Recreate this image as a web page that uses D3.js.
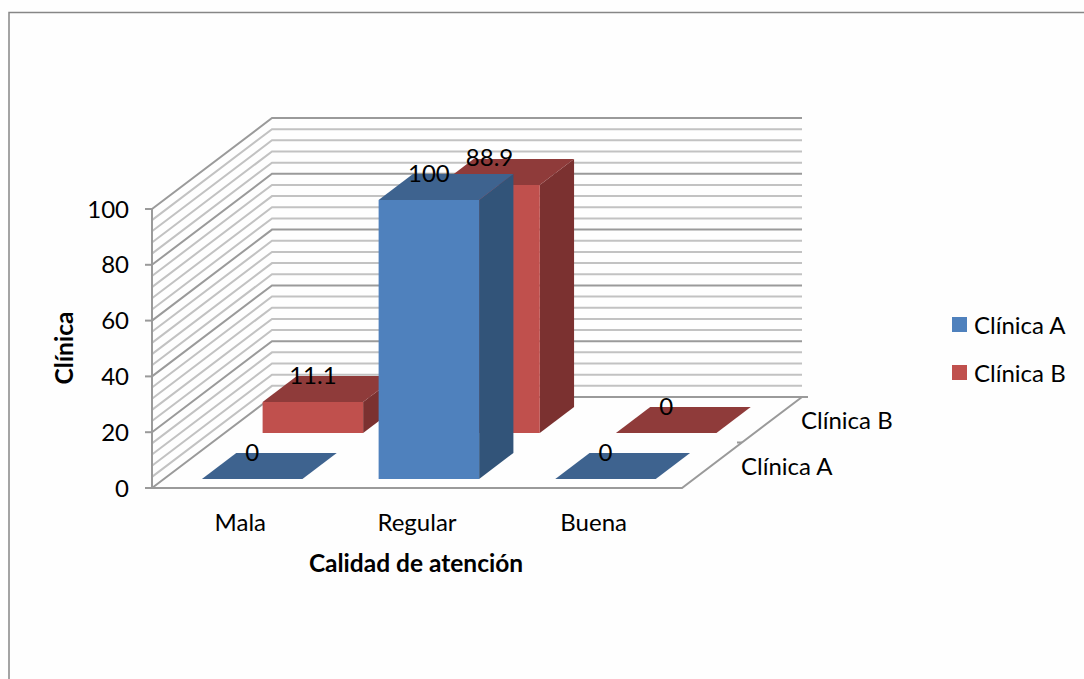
<!DOCTYPE html>
<html>
<head>
<meta charset="utf-8">
<script src="https://cdnjs.cloudflare.com/ajax/libs/d3/7.8.5/d3.min.js"></script>
<style>
  html, body { margin: 0; padding: 0; background: #fefefe; }
  svg { display: block; }
  text { font-family: Lato, "Open Sans", sans-serif; fill: #000; }
</style>
</head>
<body>
<svg id="chart" width="1084" height="679"></svg>
<script>
// Chart content
const categories = ["Mala", "Regular", "Buena"];
const seriesNames = ["Clínica A", "Clínica B"];
const clinicaA = [0, 100, 0];
const clinicaB = [11.1, 88.9, 0];
const valueTicks = [0, 20, 40, 60, 80, 100];
const minorTicks = d3.range(0, 101, 4);
const xTitle = "Calidad de atención";
const yTitle = "Clínica";

// Colours for the three visible faces of each column
const faces = [
  { front: "#4f81bd", top: "#3e638f", side: "#325479" },
  { front: "#c0504d", top: "#8f3b3a", side: "#7b3130" }
];

const svg = d3.select("#chart");

// Oblique projection: category and value span the front plane, depth shears up and right
const xScale = d3.scaleBand().domain(categories).range([152, 682]).paddingInner(0).paddingOuter(0);
const yScale = d3.scaleLinear().domain([0, 100]).range([488, 209]);
const depthX = d3.scaleLinear().domain([0, 1]).range([0, 120]);
const depthY = d3.scaleLinear().domain([0, 1]).range([0, -91]);
const project = (x, value, depth) => [x + depthX(depth), yScale(value) + depthY(depth)];

const polyline = pts => d3.line()(pts);

// Walls: horizontal lines on the back plane and diagonals on the left plane
const grid = svg.append("g").attr("fill", "none");
minorTicks.forEach(v => {
  const major = v % 20 === 0;
  const pts = [project(152, v, 0), project(152, v, 1), project(802, v, 1)];
  pts[2][0] = 802;
  grid.append("path")
    .attr("d", polyline(pts))
    .attr("stroke", major ? "#9a9a9a" : "#c2c2c2")
    .attr("stroke-width", 2);
});

// Axis lines and tick marks
const axis = svg.append("g").attr("fill", "none").attr("stroke", "#9a9a9a").attr("stroke-width", 2);
axis.append("path").attr("d", polyline([[152, yScale(100)], [152, yScale(0)]]));
valueTicks.forEach(v => axis.append("path").attr("d", polyline([[145, yScale(v)], [152, yScale(v)]])));
axis.append("path").attr("d", polyline([[145, 488], [682, 488], project(682, 0, 1)]));
axis.append("path").attr("d", polyline([project(682, 0, 1), [808, 397]]));
axis.append("path").attr("d", polyline([project(682, 0, 0.5), [project(682, 0, 0.5)[0] - 5, project(682, 0, 0.5)[1]]]));

// Columns: rear series first so the front series overlaps it
const barWidth = 100.5;
const barInset = (xScale.bandwidth() - barWidth) / 2;
const rows = [
  { values: clinicaB, near: 55 / 91, far: 81 / 91, colors: faces[1] },
  { values: clinicaA, near: 9 / 91, far: 35 / 91, colors: faces[0] }
];
const bars = svg.append("g");
rows.forEach(row => {
  row.values.forEach((value, i) => {
    const x0 = xScale(categories[i]) + barInset;
    const x1 = x0 + barWidth;
    const g = bars.append("g");
    if (value > 0) {
      g.append("path").attr("fill", row.colors.side).attr("d", polyline([
        project(x1, 0, row.near), project(x1, value, row.near),
        project(x1, value, row.far), project(x1, 0, row.far)
      ]) + "Z");
      g.append("path").attr("fill", row.colors.front).attr("d", polyline([
        project(x0, 0, row.near), project(x0, value, row.near),
        project(x1, value, row.near), project(x1, 0, row.near)
      ]) + "Z");
    }
    g.append("path").attr("fill", row.colors.top).attr("d", polyline([
      project(x0, value, row.near), project(x1, value, row.near),
      project(x1, value, row.far), project(x0, value, row.far)
    ]) + "Z");
  });
});

// Value labels sit above the middle of each column's front edge
const labels = svg.append("g").attr("font-size", 24).attr("text-anchor", "middle");
rows.forEach(row => {
  row.values.forEach((value, i) => {
    const x0 = xScale(categories[i]) + barInset;
    const p = project(x0 + barWidth / 2, value, row.near);
    labels.append("text")
      .attr("x", p[0]).attr("y", p[1] - 28)
      .attr("dominant-baseline", "central")
      .text(value);
  });
});

// Value axis labels
svg.append("g").attr("font-size", 24).attr("text-anchor", "end")
  .selectAll("text").data(valueTicks).join("text")
  .attr("x", 129).attr("y", d => yScale(d) - 1)
  .attr("dominant-baseline", "central")
  .text(d => d);

// Category labels
svg.append("g").attr("font-size", 24).attr("text-anchor", "middle")
  .selectAll("text").data(categories).join("text")
  .attr("x", d => xScale(d) + xScale.bandwidth() / 2).attr("y", 521)
  .attr("dominant-baseline", "central")
  .text(d => d);

// Series labels along the depth axis
const depthLabelX = [741, 801];
const depthLabelY = [465, 419];
svg.append("g").attr("font-size", 24)
  .selectAll("text").data(seriesNames).join("text")
  .attr("x", (d, i) => depthLabelX[i]).attr("y", (d, i) => depthLabelY[i])
  .attr("dominant-baseline", "central")
  .text(d => d);

// Axis titles
svg.append("text").attr("x", 416).attr("y", 562)
  .attr("text-anchor", "middle").attr("dominant-baseline", "central")
  .attr("font-size", 24.5).attr("font-weight", 700).text(xTitle);
svg.append("text").attr("transform", "translate(63,348) rotate(-90)")
  .attr("text-anchor", "middle").attr("dominant-baseline", "central")
  .attr("font-size", 24.5).attr("font-weight", 700).text(yTitle);

// Legend
const legendY = [325, 373];
const legend = svg.append("g");
seriesNames.forEach((name, i) => {
  legend.append("rect").attr("x", 952).attr("y", legendY[i] - 8)
    .attr("width", 15).attr("height", 15).attr("fill", faces[i].front);
  legend.append("text").attr("x", 974).attr("y", legendY[i] - 1)
    .attr("font-size", 24).attr("dominant-baseline", "central").text(name);
});

// Chart area border, open on the right and bottom
svg.append("path")
  .attr("d", polyline([[9, 679], [9, 12.5], [1084, 12.5]]))
  .attr("fill", "none").attr("stroke", "#868686").attr("stroke-width", 1.5);
</script>
</body>
</html>
